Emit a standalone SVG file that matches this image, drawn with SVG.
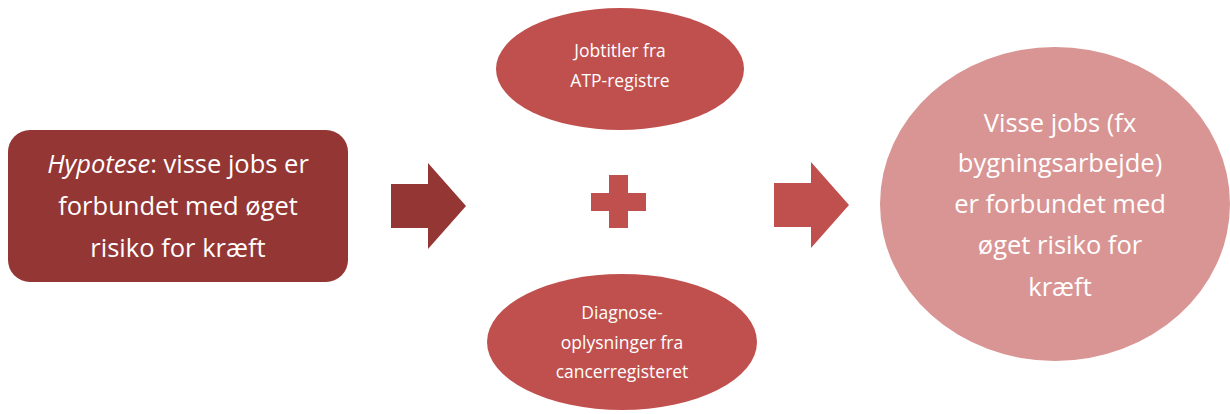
<svg xmlns="http://www.w3.org/2000/svg" width="1230" height="414" viewBox="0 0 1230 414">
  <style>
    .lbl { font-family: "Open Sans", "Liberation Sans", sans-serif; fill: #ffffff; text-anchor: middle; }
    .big { font-size: 25.5px; }
    .small { font-size: 17.5px; }
    .dark { fill: #943634; }
    .mid { fill: #c0504d; }
    .light { fill: #d99594; }
  </style>
  <rect width="1230" height="414" fill="#ffffff"/>

  <!-- hypothesis box -->
  <g id="hypotese">
    <rect class="dark" x="8" y="130" width="340" height="152" rx="22" ry="22"/>
    <text class="lbl big" x="178" y="173"><tspan font-style="italic">Hypotese</tspan>: visse jobs er</text>
    <text class="lbl big" x="178" y="215">forbundet med øget</text>
    <text class="lbl big" x="178" y="257">risiko for kræft</text>
  </g>

  <!-- data sources -->
  <g id="jobtitler">
    <ellipse class="mid" cx="620" cy="69" rx="124" ry="61"/>
    <text class="lbl small" x="620" y="57">Jobtitler fra</text>
    <text class="lbl small" x="620" y="87">ATP-registre</text>
  </g>
  <g id="diagnose">
    <ellipse class="mid" cx="622" cy="342" rx="135" ry="68"/>
    <text class="lbl small" x="622" y="319">Diagnose-</text>
    <text class="lbl small" x="622" y="349">oplysninger fra</text>
    <text class="lbl small" x="622" y="378">cancerregisteret</text>
  </g>

  <!-- result -->
  <g id="resultat">
    <ellipse class="light" cx="1055" cy="204" rx="175" ry="157"/>
    <text class="lbl big" x="1060" y="132">Visse jobs (fx</text>
    <text class="lbl big" x="1060" y="172">bygningsarbejde)</text>
    <text class="lbl big" x="1060" y="213">er forbundet med</text>
    <text class="lbl big" x="1060" y="254">øget risiko for</text>
    <text class="lbl big" x="1060" y="296">kræft</text>
  </g>

  <!-- arrows and plus sign -->
  <g id="connectors">
    <polygon class="dark" points="391,184 428,184 428,163 466,206 428,249 428,228 391,228"/>
    <polygon class="mid" points="609,175 628,175 628,193 646,193 646,211 628,211 628,228 609,228 609,211 591,211 591,193 609,193"/>
    <polygon class="mid" points="774,183 811,183 811,162 849,205 811,248 811,227 774,227"/>
  </g>
</svg>
